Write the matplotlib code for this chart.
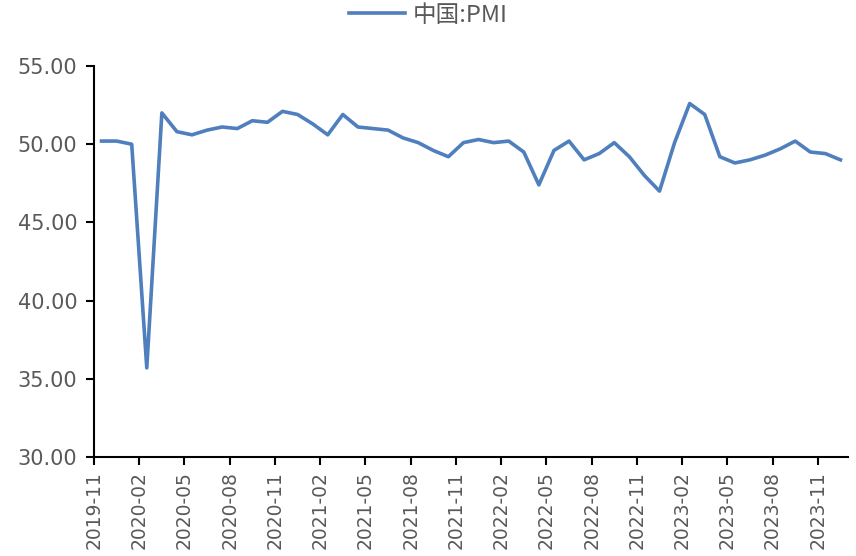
import matplotlib
matplotlib.use("Agg")
import matplotlib.pyplot as plt
import numpy as np

plt.rcParams['font.family'] = ['Noto Sans CJK SC', 'DejaVu Sans']

# Monthly China manufacturing PMI, 2019-11 .. 2023-12
months = [
    "2019-11", "2019-12", "2020-01", "2020-02", "2020-03", "2020-04", "2020-05", "2020-06",
    "2020-07", "2020-08", "2020-09", "2020-10", "2020-11", "2020-12", "2021-01", "2021-02",
    "2021-03", "2021-04", "2021-05", "2021-06", "2021-07", "2021-08", "2021-09", "2021-10",
    "2021-11", "2021-12", "2022-01", "2022-02", "2022-03", "2022-04", "2022-05", "2022-06",
    "2022-07", "2022-08", "2022-09", "2022-10", "2022-11", "2022-12", "2023-01", "2023-02",
    "2023-03", "2023-04", "2023-05", "2023-06", "2023-07", "2023-08", "2023-09", "2023-10",
    "2023-11", "2023-12",
]
pmi = [
    50.2, 50.2, 50.0, 35.7, 52.0, 50.8, 50.6, 50.9,
    51.1, 51.0, 51.5, 51.4, 52.1, 51.9, 51.3, 50.6,
    51.9, 51.1, 51.0, 50.9, 50.4, 50.1, 49.6, 49.2,
    50.1, 50.3, 50.1, 50.2, 49.5, 47.4, 49.6, 50.2,
    49.0, 49.4, 50.1, 49.2, 48.0, 47.0, 50.1, 52.6,
    51.9, 49.2, 48.8, 49.0, 49.3, 49.7, 50.2, 49.5,
    49.4, 49.0,
]
y_ticks = [30, 35, 40, 45, 50, 55]
series_name = "中国:PMI"

line_color = "#4F7FBC"
text_color = "#595959"

W, H = 856, 556
fig = plt.figure(figsize=(W / 100, H / 100), dpi=100)
ax = fig.add_axes([94 / W, 1 - 457 / H, (848 - 94) / W, (457 - 66) / H])

x = np.arange(len(pmi))
ax.plot(x, pmi, color=line_color, lw=2.6, solid_joinstyle='round', label=series_name)

ax.set_xlim(-0.5, len(pmi) - 0.5)
ax.set_ylim(30, 55)

tick_idx = list(range(0, len(months), 3))
ax.set_xticks([i - 0.5 for i in tick_idx])
ax.set_xticklabels([months[i] for i in tick_idx], rotation=90, fontsize=13.5,
                   color=text_color, family=['DejaVu Sans'])
ax.set_yticks(y_ticks)
ax.set_yticklabels([f"{v:.2f}" for v in y_ticks], fontsize=15, color=text_color,
                   family=['DejaVu Sans'])

for side in ("top", "right"):
    ax.spines[side].set_visible(False)
for side in ("left", "bottom"):
    ax.spines[side].set_linewidth(1.5)
    ax.spines[side].set_color("black")
ax.tick_params(axis='both', direction='out', length=6, width=1.5, color='black')
ax.tick_params(axis='x', pad=4)
ax.tick_params(axis='y', pad=6)

leg = fig.legend(loc='center', bbox_to_anchor=(0.5, 1 - 15 / H), frameon=False,
                 fontsize=17, handlelength=2.4, handletextpad=0.3, borderpad=0)
for t in leg.get_texts():
    t.set_color(text_color)

fig.savefig("out.png", dpi=100)
